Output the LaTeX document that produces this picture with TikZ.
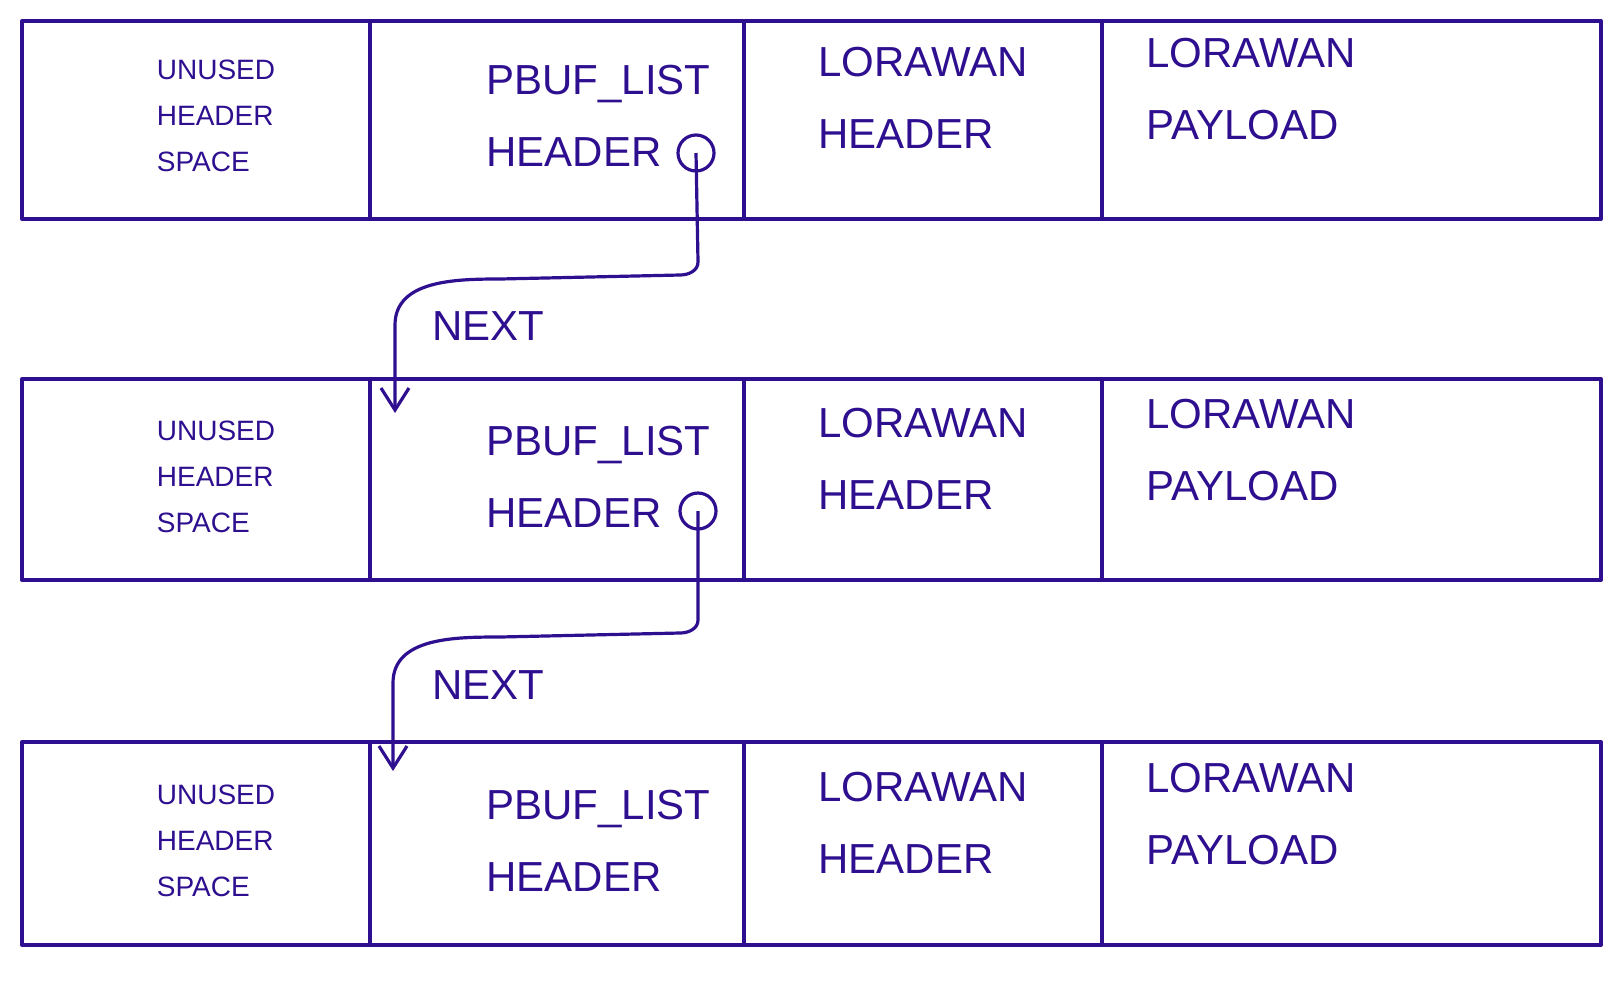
\documentclass[tikz,border=0pt]{standalone}
\usepackage{fontspec}
\setmainfont{Liberation Sans}
\usetikzlibrary{arrows.meta, positioning}
\definecolor{pbufink}{HTML}{2E0F8F}

\begin{document}
\begin{tikzpicture}[x=0.5pt, y=-0.5pt,
  cellline/.style={draw=pbufink, line width=2pt, line join=round},
  celltext/.style={anchor=west, align=left, inner sep=0pt, text=pbufink, font=\fontsize{21}{36}\selectfont},
  sidetext/.style={anchor=center, align=left, inner sep=0pt, text=pbufink, font=\fontsize{14}{23}\selectfont},
  nexttext/.style={inner sep=0pt, text=pbufink, font=\fontsize{21}{25}\selectfont},
  hook/.style={draw=pbufink, circle, line width=1.6pt, minimum size=18pt, inner sep=0pt},
  arrow/.style={-{Straight Barb[length=11pt, width=14pt]}, draw=pbufink, line width=1.6pt}
]
\useasboundingbox (0,0) rectangle (1620,980);

% first buffer
\draw[cellline] (22,21) rectangle (1601,219);
\draw[cellline] (370,21) -- (370,219) (744,21) -- (744,219) (1102,21) -- (1102,219);
\node[sidetext] (sp1) at (216,116) {UNUSED\\HEADER\\SPACE};
\node[celltext] (pb1) at (486,116) {PBUF\_LIST\\HEADER};
\node[celltext] (lh1) at (818,98) {LORAWAN\\HEADER};
\node[celltext] (lp1) at (1146,89) {LORAWAN\\PAYLOAD};
\node[hook] (hk1) at (696,153) {};

% second buffer
\draw[cellline] (22,379) rectangle (1601,580);
\draw[cellline] (370,379) -- (370,580) (744,379) -- (744,580) (1102,379) -- (1102,580);
\node[sidetext] (sp2) at (216,477) {UNUSED\\HEADER\\SPACE};
\node[celltext] (pb2) at (486,477) {PBUF\_LIST\\HEADER};
\node[celltext] (lh2) at (818,459) {LORAWAN\\HEADER};
\node[celltext] (lp2) at (1146,450) {LORAWAN\\PAYLOAD};
\node[hook] (hk2) at (698,511) {};

% third buffer
\draw[cellline] (22,742) rectangle (1601,945);
\draw[cellline] (370,742) -- (370,945) (744,742) -- (744,945) (1102,742) -- (1102,945);
\node[sidetext] (sp3) at (216,841) {UNUSED\\HEADER\\SPACE};
\node[celltext] (pb3) at (486,841) {PBUF\_LIST\\HEADER};
\node[celltext] (lh3) at (818,823) {LORAWAN\\HEADER};
\node[celltext] (lp3) at (1146,814) {LORAWAN\\PAYLOAD};

% next pointers
\coordinate (in2) at (395,413);
\coordinate (in3) at (393,771);
\draw[arrow] (hk1.center) -- (698,262) to[out=-90,in=0] (680,275) -- (500,279) to[out=180,in=90] (395,325) -- (in2);
\draw[arrow] (hk2.center) -- (698,620) to[out=-90,in=0] (680,633) -- (500,637) to[out=180,in=90] (393,683) -- (in3);
\node[nexttext] (nx1) at (488,326) {NEXT};
\node[nexttext] (nx2) at (488,685) {NEXT};
\end{tikzpicture}
\end{document}
